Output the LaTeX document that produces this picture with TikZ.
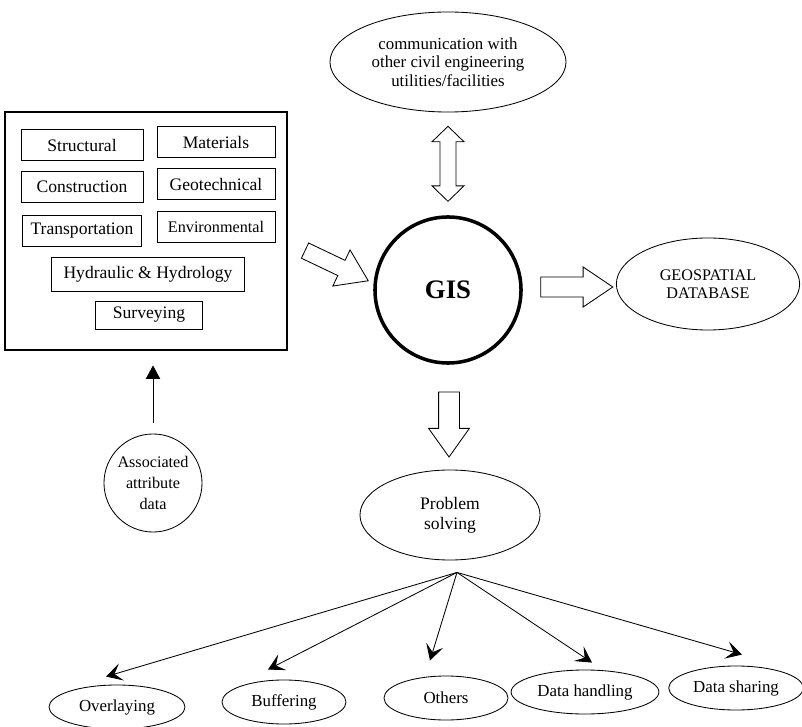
\documentclass[tikz,border=0pt]{standalone}
\usepackage{fontspec}
\setmainfont{Liberation Serif}
\usetikzlibrary{arrows.meta, shapes.geometric, shapes.arrows, calc}

\begin{document}
\begin{tikzpicture}[x=0.025cm, y=-0.025cm,
      field/.style={rectangle, draw, semithick, minimum height=0.78cm, font=\fontsize{12.5}{14}\selectfont},
      bubble/.style={ellipse, draw, semithick, align=center, font=\fontsize{12}{13}\selectfont},
      leaf/.style={ellipse, draw, semithick, minimum width=3.1cm, minimum height=1.1cm, font=\fontsize{12}{14}\selectfont},
      hollow/.style={draw, semithick, fill=white, inner xsep=0pt, single arrow tip angle=68},
      branch/.style={-{Stealth[length=4mm, width=4.4mm, inset=1.8mm]}, line width=0.6pt}]

  \useasboundingbox (0,0) rectangle (802,727);

  % Civil engineering fields
  \node[draw, thick, minimum width=7.05cm, minimum height=5.95cm] (fields) at (146,231) {};
  \node[field, minimum width=3.05cm] (struct) at (82,145) {Structural};
  \node[field, minimum width=2.95cm] (mat) at (216,142) {Materials};
  \node[field, minimum width=3.05cm] (constr) at (82,187) {Construction};
  \node[field, minimum width=2.95cm] (geotech) at (216,184) {Geotechnical};
  \node[field, minimum width=2.98cm] (transp) at (82,231) {Transportation};
  \node[field, minimum width=2.95cm, font=\fontsize{11.5}{13}\selectfont] (env) at (216,227) {Environmental};
  \node[field, minimum width=4.83cm, minimum height=0.85cm] (hydro) at (148,274) {Hydraulic \& Hydrology};
  \node[field, minimum width=2.68cm, minimum height=0.7cm] (survey) at (149,315) {Surveying};

  \node[circle, draw, semithick, minimum size=2.45cm, inner sep=0pt, align=center,
        font=\fontsize{11.5}{15}\selectfont] (assoc) at (153,483) {Associated\\attribute\\data};

  % GIS and its neighbours
  \node[circle, draw, line width=2.5pt, minimum size=3.65cm, font=\fontsize{19}{22}\selectfont\bfseries] (gis) at (448,290) {GIS};
  \node[bubble, minimum width=5.9cm, minimum height=2.5cm] (comm) at (448,62) {communication with\\other civil engineering\\utilities/facilities};
  \node[bubble, minimum width=4.58cm, minimum height=2.3cm, font=\fontsize{11.5}{13}\selectfont] (geo) at (708,284) {GEOSPATIAL\\DATABASE};
  \node[bubble, minimum width=4.5cm, minimum height=2.25cm, font=\fontsize{12.5}{14}\selectfont] (prob) at (450,515) {Problem\\solving};

  % Problem solving tasks
  \node[leaf, minimum width=3.4cm] (over) at (117,707) {Overlaying};
  \node[leaf] (buff) at (284,702) {Buffering};
  \node[leaf] (others) at (446,698) {Others};
  \node[leaf, minimum width=3.2cm] (handle) at (585,692) {Data handling};
  \node[leaf, minimum width=3.05cm] (share) at (736,688) {Data sharing};

  % Arrows
  \draw[-{Triangle[length=3.4mm, width=3.6mm]}, semithick, shorten <=0.27cm, shorten >=0.37cm]
    (assoc.north) -- (assoc.north |- fields.south);

  \node[hollow, single arrow, minimum height=1.75cm, inner ysep=0.2cm, single arrow head extend=0.29cm,
        rotate=-25.5] (feed) at (331,263) {};
  \node[hollow, single arrow, minimum height=1.8cm, inner ysep=0.24cm, single arrow head extend=0.25cm]
    (store) at ($(gis.east)!0.5!(geo.west)$) {};
  \node[hollow, single arrow, minimum height=1.625cm, inner ysep=0.25cm, single arrow head extend=0.25cm,
        single arrow tip angle=71, rotate=-90] (solve) at ($(gis.south)!0.5!(prob.north)$) {};
  \node[double arrow, draw, semithick, fill=white, minimum height=1.875cm, inner xsep=0pt, inner ysep=0.19cm,
        double arrow head extend=0.2cm, double arrow tip angle=92, rotate=90] (link) at ($(comm.south)!0.5!(gis.north)$) {};

  \coordinate (fan) at ($(prob.south)+(7,12)$);
  \foreach \n/\dx/\dy in {over/-11/-8, buff/-16/-10, others/-16/-15, handle/7/-7, share/6/-11} {
    \draw[branch] (fan) -- ($(\n.north)+(\dx,\dy)$);
  }
\end{tikzpicture}
\end{document}
